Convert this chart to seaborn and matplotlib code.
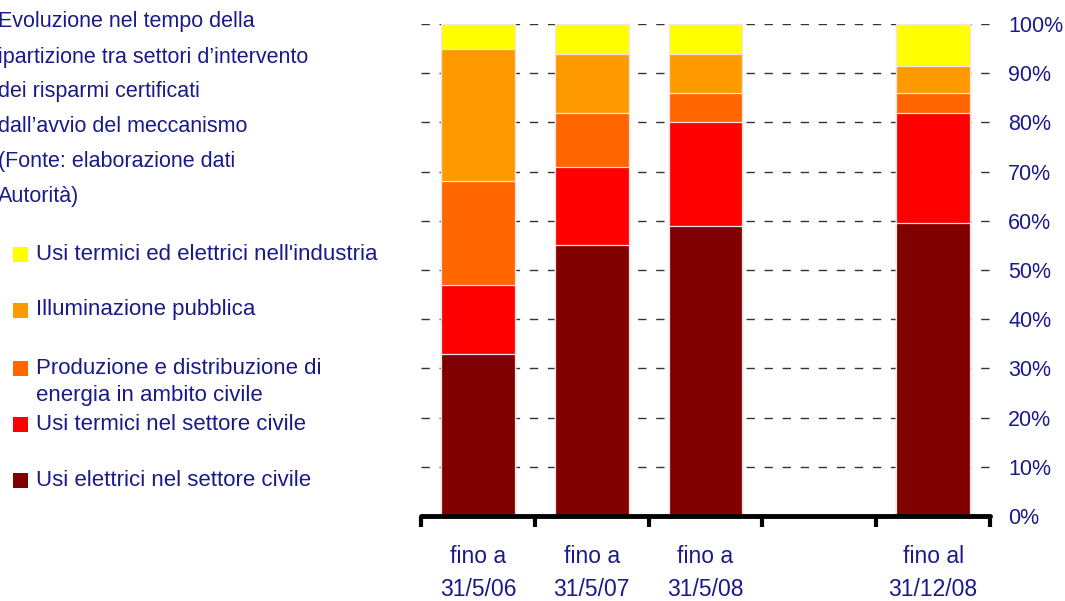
import pandas as pd
import seaborn as sns
import matplotlib.pyplot as plt
from matplotlib.patches import Rectangle

# periods (one empty slot between 31/5/08 and 31/12/08)
periods = ["fino a\n31/5/06", "fino a\n31/5/07", "fino a\n31/5/08", "fino al\n31/12/08"]
slots = [periods[0], periods[1], periods[2], " ", periods[3]]

# shares (%) per sector, bottom to top
usi_elettrici_civile = [33, 55, 59, 59.5]
usi_termici_civile = [14, 16, 21, 22.5]
produzione_distribuzione = [21, 11, 6, 4]
illuminazione_pubblica = [27, 12, 8, 5.5]
usi_industria = [5, 6, 6, 8.5]

sectors = [
    "Usi elettrici nel settore civile",
    "Usi termici nel settore civile",
    "Produzione e distribuzione di\nenergia in ambito civile",
    "Illuminazione pubblica",
    "Usi termici ed elettrici nell'industria",
]
colors = ["#800000", "#FF0000", "#FF6600", "#FF9900", "#FFFF00"]
yticks = [0, 10, 20, 30, 40, 50, 60, 70, 80, 90, 100]

title_lines = [
    "Evoluzione nel tempo della",
    "ipartizione tra settori d’intervento",
    "dei risparmi certificati",
    "dall’avvio del meccanismo",
    "(Fonte: elaborazione dati",
    "Autorità)",
]

NAVY = "#1a1a8a"
FONT = ["Liberation Sans", "DejaVu Sans"]

sns.set_style("white")
plt.rcParams["font.family"] = FONT

df = pd.DataFrame({"period": periods})
values = [usi_elettrici_civile, usi_termici_civile, produzione_distribuzione,
          illuminazione_pubblica, usi_industria]
cum = [0] * len(periods)
for name, vals in zip(sectors, values):
    cum = [c + v for c, v in zip(cum, vals)]
    df[name] = cum

fig = plt.figure(figsize=(10.65, 6.01), dpi=100)
ax = fig.add_axes([0.3953, 0.1414, 0.5343, 0.8186])

# draw cumulative totals from the top down so each band shows
for name, col in reversed(list(zip(sectors, colors))):
    sns.barplot(data=df, x="period", y=name, order=slots, color=col,
                width=0.65, edgecolor="#f4e4e4", linewidth=0.9, ax=ax,
                saturation=1)

ax.set_xlim(-0.5, 4.5)
ax.set_ylim(0, 100)
ax.set_xlabel("")
ax.set_ylabel("")

for s in ["top", "left", "right"]:
    ax.spines[s].set_visible(False)
ax.spines["bottom"].set_linewidth(3.5)
ax.spines["bottom"].set_color("black")
ax.spines["bottom"].set_capstyle("round")

ax.yaxis.tick_right()
ax.set_yticks(yticks, labels=[f"{v}%" for v in yticks])
ax.tick_params(axis="y", length=0, pad=13, labelsize=15.5, labelcolor=NAVY)
ax.set_axisbelow(True)
ax.yaxis.grid(True, linestyle=(0, (6, 7)), color="#333333", linewidth=1)

ax.set_xticks([i - 0.5 for i in range(6)], labels=[""] * 6)
ax.tick_params(axis="x", which="major", bottom=True, length=8, width=3,
               color="black", direction="out")
ax.set_xticks([0, 1, 2, 4], labels=periods, minor=True)
ax.tick_params(axis="x", which="minor", bottom=True, length=0, pad=21,
               labelsize=16.5, labelcolor=NAVY)
for t in ax.get_xticklabels(minor=True):
    t.set_linespacing(1.55)

# caption on the left
for i, line in enumerate(title_lines):
    fig.text(-0.002, 1 - (22 + 35 * i) / 601, line, fontsize=15.5,
             color=NAVY, va="center", ha="left")

# key
key_y = [254, 310, 368, 424, 480]
for name, col, y in zip(reversed(sectors), reversed(colors), key_y):
    fig.patches.append(Rectangle((13 / 1065, 1 - (y + 8) / 601), 15 / 1065,
                                 15 / 601, transform=fig.transFigure,
                                 facecolor=col, edgecolor="none"))
    if "\n" in name:
        first, second = name.split("\n")
        fig.text(36 / 1065, 1 - y / 601, first, fontsize=16, color=NAVY,
                 va="center", ha="left")
        fig.text(36 / 1065, 1 - (y + 28) / 601, second, fontsize=16,
                 color=NAVY, va="center", ha="left")
    else:
        fig.text(36 / 1065, 1 - y / 601, name, fontsize=16, color=NAVY,
                 va="center", ha="left")

fig.savefig("out.png", dpi=100)
